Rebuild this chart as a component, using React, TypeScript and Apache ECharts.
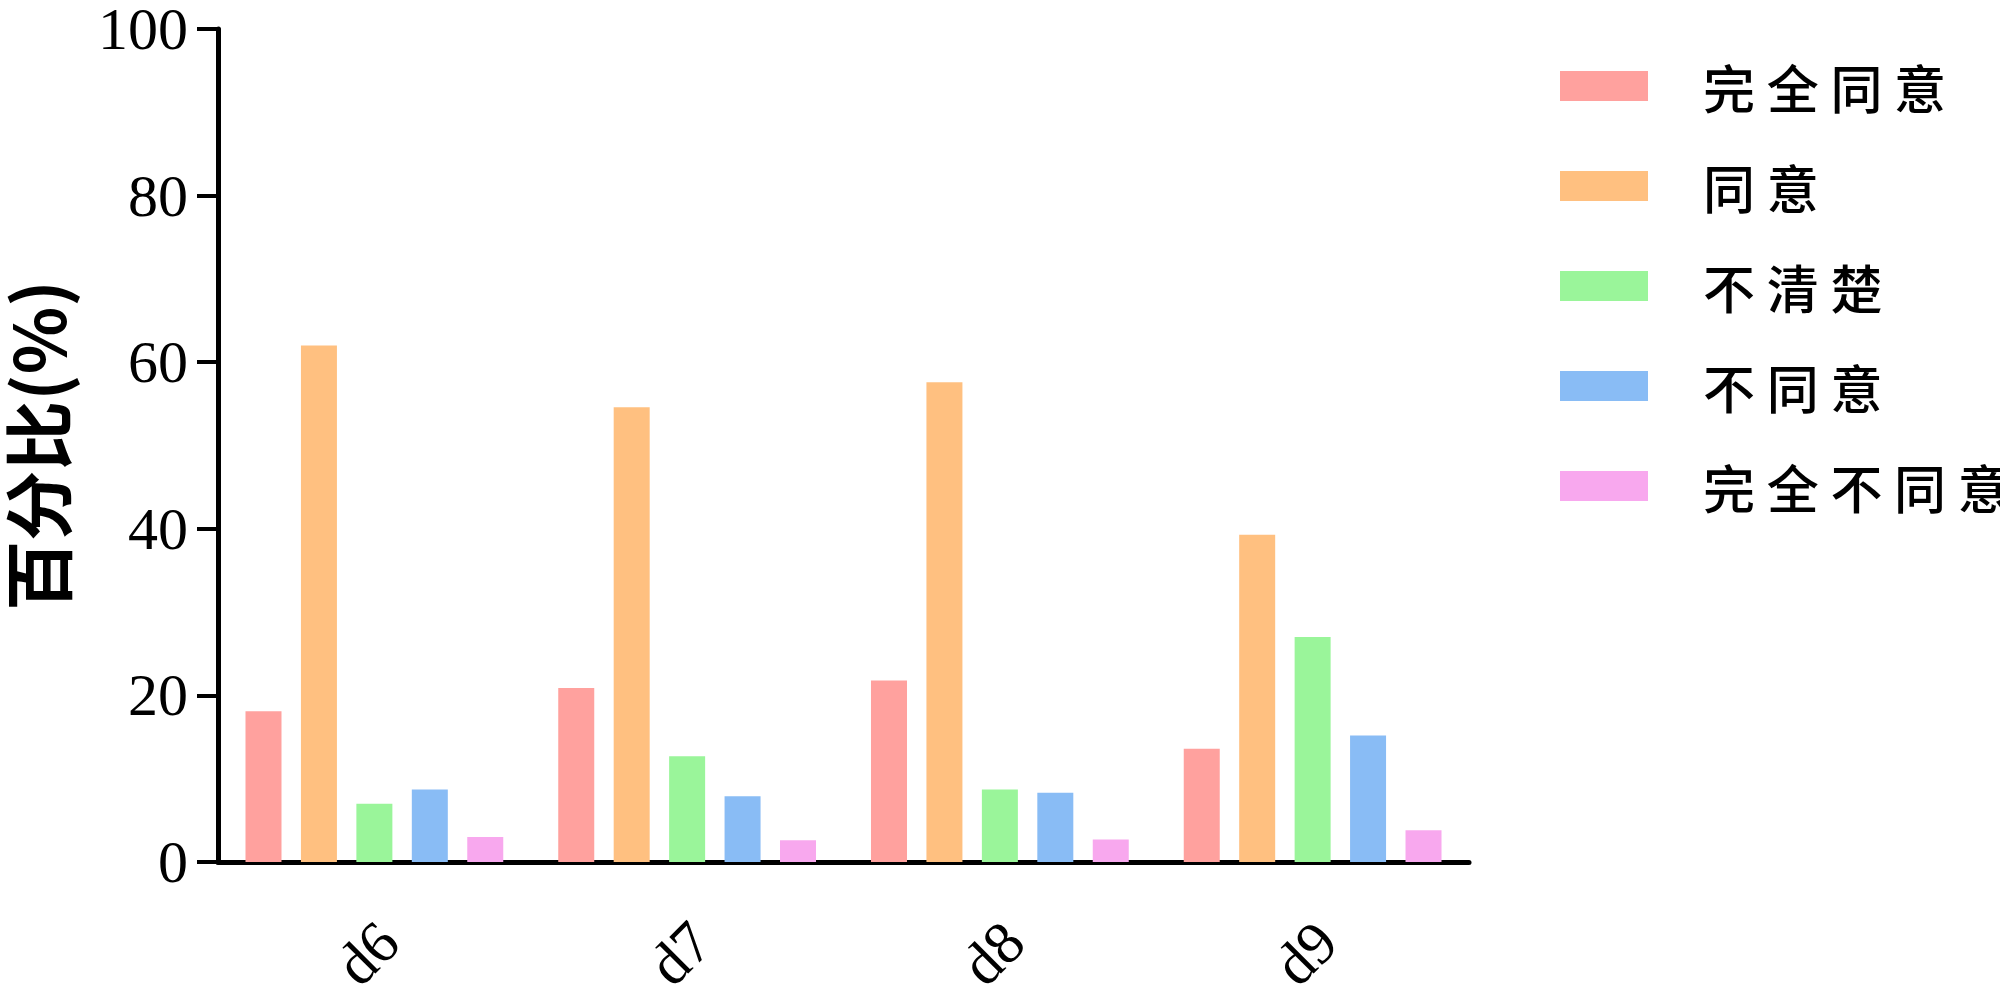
import React, { useEffect, useRef } from "react";
import * as echarts from "echarts";

const categories = ["d6", "d7", "d8", "d9"];
const seriesNames = ["完全同意", "同意", "不清楚", "不同意", "完全不同意"];
const completelyAgree = [18.1, 20.9, 21.8, 13.6];
const agree = [62.0, 54.6, 57.6, 39.3];
const unclear = [7.0, 12.7, 8.7, 27.0];
const disagree = [8.7, 7.9, 8.3, 15.2];
const completelyDisagree = [3.0, 2.6, 2.7, 3.8];
const colors = ["#FFA19E", "#FFC080", "#9AF59A", "#89BCF5", "#F8A8EE"];
const yTicks = [0, 20, 40, 60, 80, 100];

const seriesValues = [completelyAgree, agree, unclear, disagree, completelyDisagree];

export default function App() {
  const ref = useRef<HTMLDivElement>(null);
  useEffect(() => {
    document.body.style.margin = "0";
    const chart = echarts.init(ref.current!, null, { renderer: "svg" });
    chart.setOption({
      animation: false,
      backgroundColor: "#ffffff",
      grid: {
        left: 218,
        right: 531,
        top: 29,
        bottom: 138,
        containLabel: false,
        outerBoundsMode: "none",
      },
      legend: {
        orient: "vertical",
        left: 1555,
        top: 51,
        itemWidth: 88,
        itemHeight: 30,
        itemGap: 40,
        icon: "rect",
        data: seriesNames,
        formatter: (name: string) => name.split("").join(" "),
        textStyle: {
          fontFamily: "Noto Sans CJK SC",
          fontWeight: 500,
          fontSize: 52,
          lineHeight: 60,
          color: "#000",
          padding: [0, 0, 0, 50],
        },
      },
      xAxis: {
        type: "category",
        data: categories,
        axisLine: { lineStyle: { color: "#000", width: 5 } },
        axisTick: { alignWithLabel: true, length: 23, lineStyle: { color: "#000", width: 4 } },
        axisLabel: {
          rotate: 45,
          margin: 56,
          verticalAlign: "top",
          lineHeight: 40,
          fontFamily: "Liberation Serif",
          fontSize: 60,
          color: "#000",
        },
      },
      yAxis: {
        type: "value",
        min: yTicks[0],
        max: yTicks[yTicks.length - 1],
        interval: 20,
        name: "百分比(%)",
        nameLocation: "middle",
        nameGap: 148,
        nameRotate: 90,
        nameTextStyle: {
          fontFamily: "Noto Sans CJK SC",
          fontWeight: "bold",
          fontSize: 70,
          color: "#000",
        },
        splitLine: { show: false },
        axisLine: { show: true, lineStyle: { color: "#000", width: 5 } },
        axisTick: { show: true, length: 21, lineStyle: { color: "#000", width: 4 } },
        axisLabel: {
          margin: 30,
          fontFamily: "Liberation Serif",
          fontSize: 60,
          color: "#000",
        },
      },
      series: seriesNames.map((name, i) => ({
        name,
        type: "bar",
        data: seriesValues[i],
        barWidth: 36,
        barGap: "54%",
        itemStyle: { color: colors[i] },
      })),
    });
    return () => chart.dispose();
  }, []);
  return <div ref={ref} style={{ width: 2000, height: 1000 }} />;
}
